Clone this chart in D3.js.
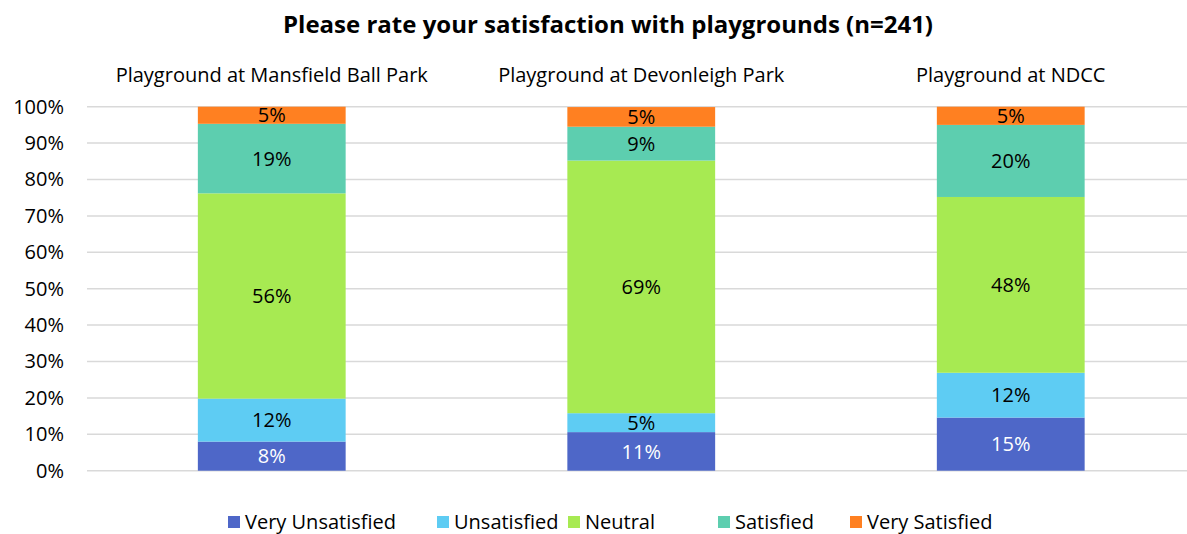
<!DOCTYPE html>
<html><head><meta charset="utf-8">
<script src="https://cdn.jsdelivr.net/npm/d3@7"></script>
<style>body{margin:0;background:#fff;} svg{display:block;font-family:"Open Sans", sans-serif;}</style>
</head><body>
<svg id="c" width="1187" height="534"></svg>
<script>
const title = "Please rate your satisfaction with playgrounds (n=241)";
const categories = ["Playground at Mansfield Ball Park", "Playground at Devonleigh Park", "Playground at NDCC"];
const seriesNames = ["Very Unsatisfied", "Unsatisfied", "Neutral", "Satisfied", "Very Satisfied"];
const veryUnsatisfied = [8.0, 10.6, 14.6];
const unsatisfied = [11.8, 5.2, 12.3];
const neutral = [56.4, 69.4, 48.3];
const satisfied = [19.1, 9.3, 19.8];
const verySatisfied = [4.7, 5.4, 5.0];
const yTicks = [0, 10, 20, 30, 40, 50, 60, 70, 80, 90, 100];
const colors = ["#4E67C8", "#5ECCF3", "#A7EA52", "#5DCEAF", "#FF8021"];
const labelColors = ["#ffffff", "#000000", "#000000", "#000000", "#000000"];

const seriesValues = [veryUnsatisfied, unsatisfied, neutral, satisfied, verySatisfied];
const rows = categories.map((c, i) => {
  const r = {cat: c};
  seriesNames.forEach((s, j) => r[s] = seriesValues[j][i]);
  return r;
});

const svg = d3.select("#c");
const x = d3.scaleBand().domain(categories).range([87, 1195.5]).paddingInner(0.6).paddingOuter(0.3);
const y = d3.scaleLinear().domain([0, 100]).range([470.7, 106.7]);

svg.append("text").attr("x", 608).attr("y", 33).attr("text-anchor", "middle")
  .attr("font-size", 24).attr("font-weight", "bold").attr("fill", "#000").text(title);

// grid
svg.append("g").selectAll("line").data(yTicks).join("line")
  .attr("x1", 87).attr("x2", 1187).attr("y1", d => y(d)).attr("y2", d => y(d))
  .attr("stroke", "#d9d9d9").attr("stroke-width", 1.5);

// y axis
const yAxis = d3.axisLeft(y).tickValues(yTicks).tickFormat(d => d + "%").tickSize(0).tickPadding(0);
const ga = svg.append("g").attr("transform", "translate(64,0)").call(yAxis);
ga.select(".domain").remove();
ga.selectAll("text").attr("font-size", 20).attr("font-family", "'Open Sans', sans-serif").attr("fill", "#000");

// facet labels
svg.append("g").selectAll("text").data(categories).join("text")
  .attr("x", d => x(d) + x.bandwidth() / 2).attr("y", 82).attr("text-anchor", "middle")
  .attr("font-size", 20).attr("fill", "#000").text(d => d);

const stack = d3.stack().keys(seriesNames)(rows);
const g = svg.append("g");
stack.forEach((layer, j) => {
  g.selectAll(null).data(layer).join("rect")
    .attr("x", d => x(d.data.cat)).attr("width", x.bandwidth())
    .attr("y", d => y(d[1])).attr("height", d => y(d[0]) - y(d[1]))
    .attr("fill", colors[j]);
  g.selectAll(null).data(layer).join("text")
    .attr("x", d => x(d.data.cat) + x.bandwidth() / 2)
    .attr("y", d => (y(d[0]) + y(d[1])) / 2).attr("dy", "0.36em")
    .attr("text-anchor", "middle").attr("font-size", 20).attr("fill", labelColors[j])
    .text(d => Math.round(d[1] - d[0]) + "%");
});

// legend
const legX = [228, 437, 568, 718, 850];
const lg = svg.append("g");
seriesNames.forEach((s, j) => {
  lg.append("rect").attr("x", legX[j]).attr("y", 516).attr("width", 12).attr("height", 12).attr("fill", colors[j]);
  lg.append("text").attr("x", legX[j] + 17).attr("y", 522).attr("dy", "0.36em")
    .attr("font-size", 20).attr("fill", "#000").text(s);
});
</script>
</body></html>
